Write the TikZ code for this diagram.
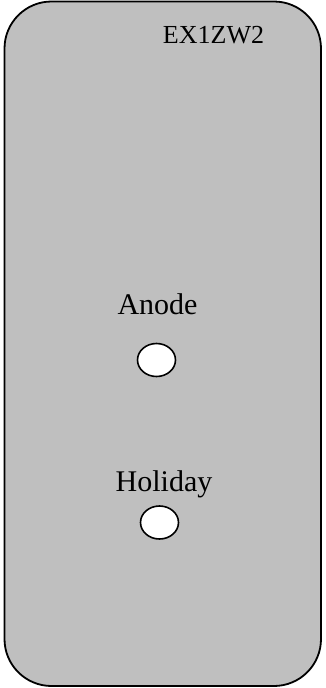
\documentclass[tikz,border=0pt]{standalone}
\usepackage{fontspec}
\setmainfont{Liberation Serif}
\usetikzlibrary{shapes.geometric}

\begin{document}
\begin{tikzpicture}[
    x=1pt, y=-1pt,
    panel/.style={draw, line width=1.8pt, rounded corners=47pt, fill=black!25},
    hole/.style={draw, ellipse, line width=1.6pt, fill=white, minimum width=38pt, minimum height=33pt, inner sep=0pt},
    lbl/.style={anchor=base, inner sep=0pt, font=\fontsize{30}{36}\selectfont}
]
\useasboundingbox (0,0) rectangle (325,688);
\draw[panel] (4.5,1.5) rectangle (321,686);
\node[anchor=base, inner sep=0pt, font=\fontsize{26}{31}\selectfont] (tag) at (213.5,43) {EX1ZW2};
\node[lbl] (anode) at (157.5,314) {Anode};
\node[hole] (anodehole) at (156.5,360) {};
\node[lbl] (holiday) at (164,491) {Holiday};
\node[hole] (holidayhole) at (159.5,522.5) {};
\end{tikzpicture}
\end{document}
